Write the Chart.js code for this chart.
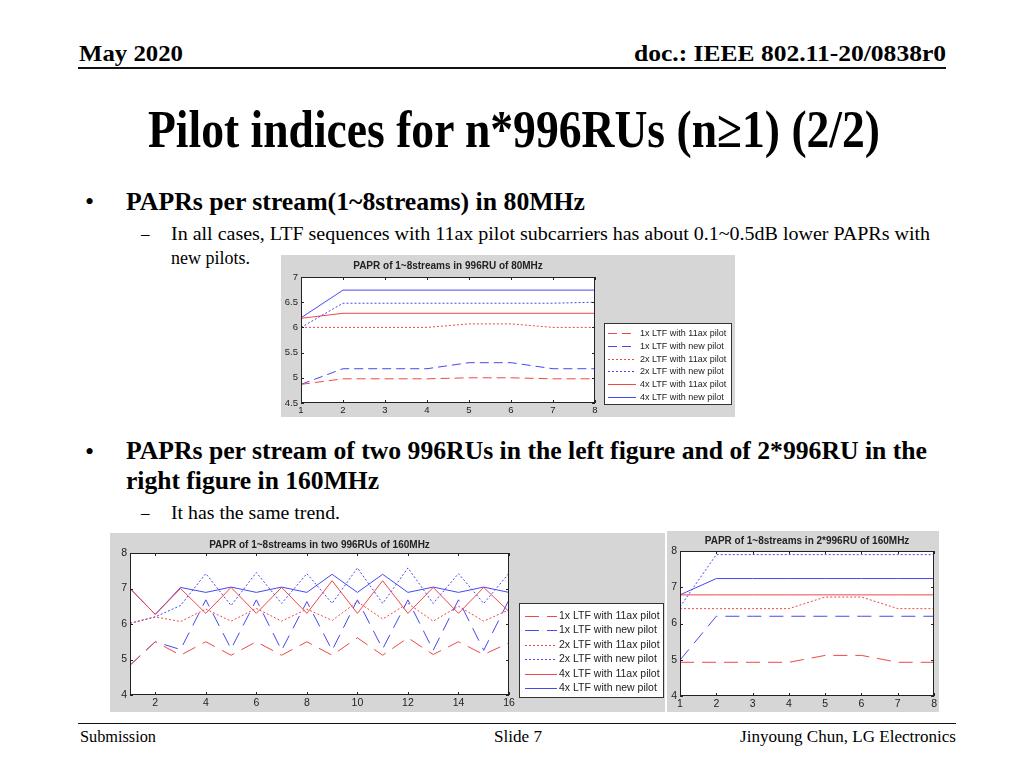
<!DOCTYPE html>
<html>
<head>
<meta charset="utf-8">
<script src="https://cdn.jsdelivr.net/npm/chart.js@4.4.1/dist/chart.umd.min.js"></script>
<style>
  html, body { margin: 0; padding: 0; background: #fff; }
  #slide { position: relative; width: 1024px; height: 768px; overflow: hidden; font-family: "Liberation Serif", "Times New Roman", serif; color: #000; }
  .t { position: absolute; white-space: nowrap; }
  .fit { display: inline-block; }
  .b { font-weight: bold; }
  .rule { position: absolute; background: #111; }
  canvas { position: absolute; background: #d6d6d6; }
</style>
</head>
<body>
<div id="slide">
  <div class="t b fit" data-w="104" style="left:79px; top:39px; font-size:24px; line-height:28px;">May 2020</div>
  <div class="t b fit" data-w="312" data-r="946" style="top:39px; font-size:24px; line-height:28px;">doc.: IEEE 802.11-20/0838r0</div>
  <div class="rule" style="left:78px; top:67px; width:868px; height:2px;"></div>

  <div class="t b fit" data-w="732" style="left:148px; top:99px; font-size:52px; line-height:62px;">Pilot indices for n*996RUs (n≥1) (2/2)</div>

  <div class="t" style="left:85px; top:187px; font-size:26px; line-height:30px;">•</div>
  <div class="t b fit" data-w="459" style="left:126px; top:187px; font-size:25px; line-height:30px;">PAPRs per stream(1~8streams) in 80MHz</div>
  <div class="t" style="left:141px; top:223px; font-size:17px; line-height:22px;">–</div>
  <div class="t fit" data-w="759" style="left:171px; top:223px; font-size:18px; line-height:22px;">In all cases, LTF sequences with 11ax pilot subcarriers has about 0.1~0.5dB lower PAPRs with</div>
  <div class="t" style="left:171px; top:247px; font-size:18px; line-height:22px;">new pilots.</div>

  <div class="t" style="left:85px; top:437px; font-size:26px; line-height:30px;">•</div>
  <div class="t b fit" data-w="801" style="left:126px; top:436px; font-size:25px; line-height:30px;">PAPRs per stream of two 996RUs in the left figure and of 2*996RU in the</div>
  <div class="t b fit" data-w="253" style="left:126px; top:466px; font-size:25px; line-height:30px;">right figure in 160MHz</div>
  <div class="t" style="left:141px; top:502px; font-size:17px; line-height:22px;">–</div>
  <div class="t fit" data-w="169" style="left:171px; top:502px; font-size:18px; line-height:22px;">It has the same trend.</div>

  <canvas id="c80" width="454" height="162" style="left:281px; top:255px;"></canvas>
  <canvas id="c160a" width="555" height="179" style="left:110px; top:533px;"></canvas>
  <canvas id="c160b" width="272" height="181" style="left:667px; top:531px;"></canvas>

  <div class="rule" style="left:78px; top:723px; width:878px; height:1px;"></div>
  <div class="t fit" data-w="76" style="left:80px; top:727px; font-size:16px; line-height:20px;">Submission</div>
  <div class="t fit" data-w="48" style="left:494px; top:727px; font-size:16px; line-height:20px;">Slide 7</div>
  <div class="t fit" data-w="216" data-r="956" style="top:727px; font-size:16px; line-height:20px;">Jinyoung Chun, LG Electronics</div>
</div>

<script>
// x values (number of streams)
const streams8 = [1, 2, 3, 4, 5, 6, 7, 8];
const streams16 = [1, 2, 3, 4, 5, 6, 7, 8, 9, 10, 11, 12, 13, 14, 15, 16];

const seriesNames = [
  '1x LTF with 11ax pilot',
  '1x LTF with new pilot',
  '2x LTF with 11ax pilot',
  '2x LTF with new pilot',
  '4x LTF with 11ax pilot',
  '4x LTF with new pilot'
];

// tick labels
const yTicks80 = [4.5, 5, 5.5, 6, 6.5, 7];
const yTicks160 = [4, 5, 6, 7, 8];
const xTicks8 = [1, 2, 3, 4, 5, 6, 7, 8];
const xTicks16 = [2, 4, 6, 8, 10, 12, 14, 16];

// 996RU of 80MHz
const p80_1x11ax = [4.87, 4.98, 4.98, 4.98, 5.0, 5.0, 4.98, 4.98];
const p80_1xNew  = [4.87, 5.18, 5.18, 5.18, 5.3, 5.3, 5.18, 5.18];
const p80_2x11ax = [6.0, 6.0, 6.0, 6.0, 6.07, 6.07, 6.0, 6.0];
const p80_2xNew  = [6.0, 6.48, 6.48, 6.48, 6.48, 6.48, 6.48, 6.5];
const p80_4x11ax = [6.18, 6.28, 6.28, 6.28, 6.28, 6.28, 6.28, 6.28];
const p80_4xNew  = [6.19, 6.74, 6.74, 6.74, 6.74, 6.74, 6.74, 6.74];

// two 996RUs of 160MHz
const two_1x11ax = [4.84, 5.5, 5.12, 5.5, 5.12, 5.5, 5.12, 5.5, 5.12, 5.61, 5.12, 5.61, 5.14, 5.5, 5.14, 5.47];
const two_1xNew  = [4.84, 5.5, 5.28, 6.68, 5.3, 6.68, 5.26, 6.63, 5.26, 6.68, 5.3, 6.68, 5.26, 6.68, 5.26, 6.68];
const two_2x11ax = [6.02, 6.2, 6.07, 6.42, 6.08, 6.44, 6.08, 6.42, 6.1, 6.63, 6.14, 6.58, 6.08, 6.5, 6.08, 6.4];
const two_2xNew  = [6.02, 6.2, 6.52, 7.42, 6.52, 7.45, 6.58, 7.42, 6.58, 7.58, 6.58, 7.58, 6.58, 7.42, 6.58, 7.43];
const two_4x11ax = [7.0, 6.27, 7.0, 6.3, 7.03, 6.3, 7.03, 6.3, 7.22, 6.3, 7.22, 6.3, 7.03, 6.3, 7.03, 6.35];
const two_4xNew  = [7.0, 6.27, 7.03, 6.89, 7.04, 6.89, 7.04, 6.89, 7.4, 6.89, 7.4, 6.89, 7.04, 6.89, 7.04, 6.89];

// 2*996RU of 160MHz
const dbl_1x11ax = [4.93, 4.93, 4.93, 4.93, 5.12, 5.12, 4.93, 4.93];
const dbl_1xNew  = [4.99, 6.2, 6.2, 6.2, 6.2, 6.2, 6.2, 6.2];
const dbl_2x11ax = [6.41, 6.41, 6.41, 6.41, 6.73, 6.73, 6.41, 6.41];
const dbl_2xNew  = [6.46, 7.9, 7.9, 7.9, 7.9, 7.9, 7.9, 7.9];
const dbl_4x11ax = [6.79, 6.79, 6.79, 6.79, 6.79, 6.79, 6.79, 6.79];
const dbl_4xNew  = [6.79, 7.24, 7.24, 7.24, 7.24, 7.24, 7.24, 7.24];

// squeeze slide text to the widths of the original (narrow Times)
document.querySelectorAll('.fit').forEach(el => {
  const w = el.getBoundingClientRect().width;
  const target = Number(el.dataset.w);
  if (el.dataset.r) el.style.left = (Number(el.dataset.r) - target) + 'px';
  el.style.transformOrigin = 'left center';
  el.style.transform = `scaleX(${target / w})`;
});

Chart.defaults.font.family = '"Liberation Sans", Arial, sans-serif';
Chart.defaults.color = '#222';

const RED = '#f04848';
const BLUE = '#4848f0';

const buildDatasets = (xs, list, dash) => list.map((vals, i) => ({
  label: seriesNames[i],
  data: vals.map((v, k) => ({ x: xs[k], y: v })),
  borderColor: i % 2 === 0 ? RED : BLUE,
  borderWidth: 1,
  borderDash: i < 2 ? dash : (i < 4 ? [2, 2] : []),
  pointRadius: 0,
  tension: 0,
  fill: false
}));

// white axes box with MATLAB style inward tick marks
const matlabFrame = {
  id: 'matlabFrame',
  beforeDatasetsDraw(chart) {
    const { ctx, chartArea: a } = chart;
    ctx.save();
    ctx.fillStyle = '#fff';
    ctx.fillRect(a.left, a.top, a.right - a.left, a.bottom - a.top);
    ctx.restore();
  },
  afterDatasetsDraw(chart) {
    const { ctx, chartArea: a, scales } = chart;
    ctx.save();
    ctx.strokeStyle = '#222';
    ctx.lineWidth = 1;
    ctx.setLineDash([]);
    ctx.strokeRect(Math.round(a.left) + 0.5, Math.round(a.top) + 0.5,
      Math.round(a.right - a.left) - 1, Math.round(a.bottom - a.top) - 1);
    ctx.beginPath();
    scales.x.ticks.forEach(t => {
      const px = Math.round(scales.x.getPixelForValue(t.value)) + 0.5;
      ctx.moveTo(px, a.bottom); ctx.lineTo(px, a.bottom - 3);
      ctx.moveTo(px, a.top); ctx.lineTo(px, a.top + 3);
    });
    scales.y.ticks.forEach(t => {
      const py = Math.round(scales.y.getPixelForValue(t.value)) + 0.5;
      ctx.moveTo(a.left, py); ctx.lineTo(a.left + 3, py);
      ctx.moveTo(a.right, py); ctx.lineTo(a.right - 3, py);
    });
    ctx.stroke();
    ctx.restore();
  }
};

// boxed legend like the MATLAB one
const boxLegend = {
  id: 'boxLegend',
  afterDraw(chart, args, o) {
    if (!o || !o.show) return;
    const { ctx } = chart;
    ctx.save();
    ctx.fillStyle = '#fff';
    ctx.fillRect(o.x, o.y, o.w, o.h);
    ctx.strokeStyle = '#333';
    ctx.lineWidth = 1;
    ctx.strokeRect(o.x + 0.5, o.y + 0.5, o.w - 1, o.h - 1);
    ctx.font = `${o.size}px "Liberation Sans", Arial, sans-serif`;
    ctx.textBaseline = 'middle';
    chart.data.datasets.forEach((ds, i) => {
      const cy = Math.round(o.y + o.first + i * o.row) + 0.5;
      ctx.strokeStyle = ds.borderColor;
      ctx.setLineDash(ds.borderDash || []);
      ctx.beginPath();
      ctx.moveTo(o.x + o.lx, cy);
      ctx.lineTo(o.x + o.lx + o.len, cy);
      ctx.stroke();
      ctx.setLineDash([]);
      ctx.fillStyle = '#222';
      ctx.fillText(ds.label, o.x + o.tx, cy);
    });
    ctx.restore();
  }
};

const makeChart = (id, cfg) => new Chart(document.getElementById(id), {
  type: 'line',
  data: { datasets: cfg.datasets },
  options: {
    responsive: false,
    animation: false,
    layout: { padding: cfg.padding },
    plugins: {
      legend: { display: false },
      tooltip: { enabled: false },
      title: {
        display: true,
        text: cfg.title,
        fullSize: false,
        color: '#222',
        font: { size: cfg.titleSize, weight: 'bold' },
        padding: cfg.titlePad
      },
      boxLegend: cfg.legend
    },
    scales: {
      x: {
        type: 'linear',
        min: cfg.xMin,
        max: cfg.xMax,
        afterBuildTicks: s => { s.ticks = cfg.xTicks.map(v => ({ value: v })); },
        afterFit: s => { s.height = cfg.xH; },
        grid: { display: false, drawTicks: false },
        border: { display: false },
        ticks: { font: { size: cfg.tickSize }, padding: 2, maxRotation: 0, autoSkip: false, callback: v => String(v) }
      },
      y: {
        min: cfg.yMin,
        max: cfg.yMax,
        afterBuildTicks: s => { s.ticks = cfg.yTicks.map(v => ({ value: v })); },
        afterFit: s => { s.width = cfg.yW; },
        grid: { display: false, drawTicks: false },
        border: { display: false },
        ticks: { font: { size: cfg.tickSize }, padding: 3, autoSkip: false, callback: v => String(v) }
      }
    }
  },
  plugins: [matlabFrame, boxLegend]
});

makeChart('c80', {
  title: 'PAPR of 1~8streams in 996RU of 80MHz',
  titleSize: 10,
  titlePad: { top: 5, bottom: 5 },
  tickSize: 9.5,
  padding: { left: 0, right: 140, top: 0, bottom: 0 },
  xMin: 1, xMax: 8, xTicks: xTicks8, xH: 14,
  yMin: 4.5, yMax: 7, yTicks: yTicks80, yW: 20,
  datasets: buildDatasets(streams8,
    [p80_1x11ax, p80_1xNew, p80_2x11ax, p80_2xNew, p80_4x11ax, p80_4xNew], [9, 5]),
  legend: { show: true, x: 323, y: 68, w: 128, h: 82, first: 10, row: 12.8, lx: 4, len: 28, tx: 36, size: 9 }
});

makeChart('c160a', {
  title: 'PAPR of 1~8streams in two 996RUs of 160MHz',
  titleSize: 10,
  titlePad: { top: 6, bottom: 2 },
  tickSize: 10.5,
  padding: { left: 0, right: 156, top: 0, bottom: 0 },
  xMin: 1, xMax: 16, xTicks: xTicks16, xH: 17,
  yMin: 4, yMax: 8, yTicks: yTicks160, yW: 20,
  datasets: buildDatasets(streams16,
    [two_1x11ax, two_1xNew, two_2x11ax, two_2xNew, two_4x11ax, two_4xNew], [14, 8]),
  legend: { show: true, x: 409, y: 70, w: 145, h: 95, first: 12.5, row: 14.5, lx: 6, len: 32, tx: 40, size: 10.5 }
});

makeChart('c160b', {
  title: 'PAPR of 1~8streams in 2*996RU of 160MHz',
  titleSize: 10,
  titlePad: { top: 4, bottom: 4 },
  tickSize: 10.5,
  padding: { left: 0, right: 4, top: 0, bottom: 0 },
  xMin: 1, xMax: 8, xTicks: xTicks8, xH: 16,
  yMin: 4, yMax: 8, yTicks: yTicks160, yW: 13,
  datasets: buildDatasets(streams8,
    [dbl_1x11ax, dbl_1xNew, dbl_2x11ax, dbl_2xNew, dbl_4x11ax, dbl_4xNew], [14, 8]),
  legend: { show: false }
});
</script>
</body>
</html>
